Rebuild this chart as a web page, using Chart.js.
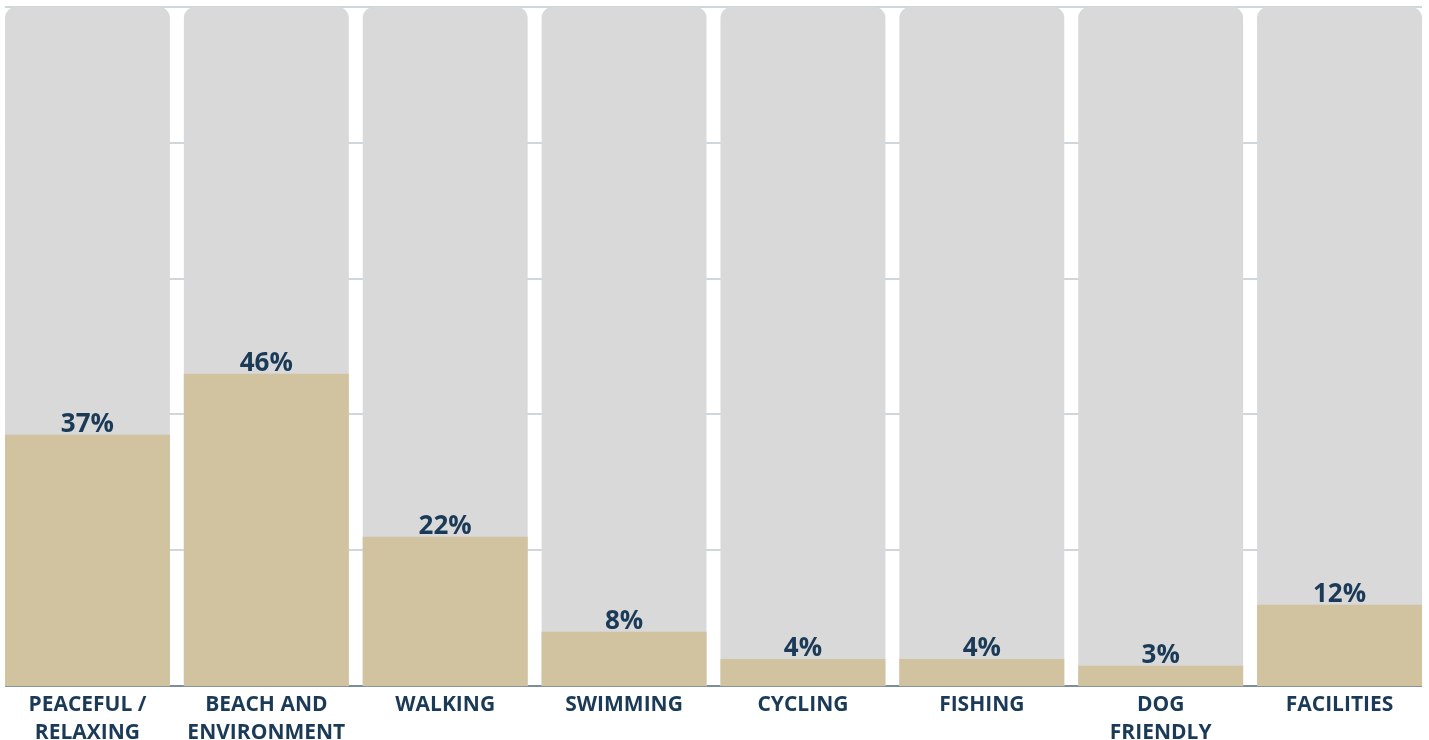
<!DOCTYPE html>
<html lang="en">
<head>
    <meta charset="UTF-8">
    <title>Beach reasons</title>
    <script src="https://cdn.jsdelivr.net/npm/chart.js"></script>
    <style>
        html, body { margin: 0; padding: 0; background: #fff; overflow: hidden; }
        #wrap { width: 1431px; height: 752px; margin-left: -2px; }
    </style>
</head>
<body>
<div id="wrap"><canvas id="myChart"></canvas></div>

<script>
    // data
    const categories = [
        ['PEACEFUL /', 'RELAXING'],
        ['BEACH AND', 'ENVIRONMENT'],
        'WALKING',
        'SWIMMING',
        'CYCLING',
        'FISHING',
        ['DOG', 'FRIENDLY'],
        'FACILITIES'
    ];
    const shares = [37, 46, 22, 8, 4, 4, 3, 12];
    const fullScale = [100, 100, 100, 100, 100, 100, 100, 100];
    const yTicks = [0, 20, 40, 60, 80, 100];

    const navy = '#1b3a57';

    // horizontal guide lines, only as wide as the row of bars
    const guideLines = {
        id: 'guideLines',
        beforeDatasetsDraw(chart) {
            const ctx = chart.ctx;
            const y = chart.scales.y;
            const bars = chart.getDatasetMeta(1).data;
            const first = bars[0], last = bars[bars.length - 1];
            const x0 = first.x - first.width / 2;
            const x1 = last.x + last.width / 2;
            ctx.save();
            yTicks.forEach(function (v) {
                const py = Math.round(y.getPixelForValue(v));
                ctx.strokeStyle = v === 0 ? '#7d8d9b' : '#cfd7dd';
                ctx.lineWidth = 2;
                ctx.beginPath();
                ctx.moveTo(x0, py);
                ctx.lineTo(x1, py);
                ctx.stroke();
            });
            ctx.restore();
        }
    };

    // draws the % above each tan bar
    const valueLabels = {
        id: 'valueLabels',
        afterDatasetsDraw(chart) {
            const ctx = chart.ctx;
            const meta = chart.getDatasetMeta(0);
            ctx.save();
            ctx.fillStyle = navy;
            ctx.font = 'bold 26px "Open Sans"';
            ctx.textAlign = 'center';
            ctx.textBaseline = 'alphabetic';
            meta.data.forEach(function (bar, i) {
                ctx.fillText(shares[i] + '%', bar.x, bar.y - 3);
            });
            ctx.restore();
        }
    };

    const ctx = document.getElementById('myChart').getContext('2d');
    const myChart = new Chart(ctx, {
        type: 'bar',
        data: {
            labels: categories,
            datasets: [{
                label: 'share',
                data: shares,
                backgroundColor: '#d1c2a0',
                order: 0,
                grouped: false,
                barPercentage: 0.922,
                categoryPercentage: 1
            }, {
                label: 'total',
                data: fullScale,
                backgroundColor: '#d9d9d9',
                borderRadius: { topLeft: 11, topRight: 11 },
                borderSkipped: 'bottom',
                order: 1,
                grouped: false,
                barPercentage: 0.922,
                categoryPercentage: 1
            }]
        },
        options: {
            responsive: true,
            maintainAspectRatio: false,
            animation: false,
            layout: { padding: { left: 0, right: 0, top: 7, bottom: 0 } },
            plugins: {
                legend: { display: false },
                tooltip: { enabled: false }
            },
            scales: {
                x: {
                    grid: { display: false, drawTicks: false },
                    border: { display: false },
                    ticks: {
                        color: navy,
                        font: { family: 'Open Sans', weight: 'bold', size: 21, lineHeight: 1.33 },
                        maxRotation: 0,
                        autoSkip: false,
                        padding: 5
                    }
                },
                y: {
                    display: false,
                    min: 0,
                    max: 100
                }
            }
        },
        plugins: [guideLines, valueLabels]
    });
</script>
</body>
</html>
